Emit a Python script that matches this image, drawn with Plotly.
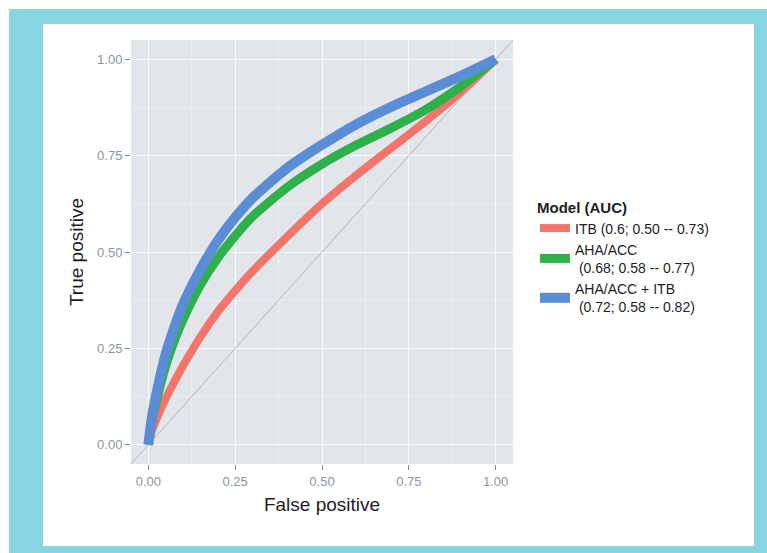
import plotly.graph_objects as go

# ---- data ----
itb_x = [0, 0.01, 0.025, 0.05, 0.1, 0.15, 0.2, 0.25, 0.3, 0.4, 0.5, 0.6, 0.7, 0.8, 0.9, 1]
itb_y = [0, 0.035, 0.07, 0.12, 0.205, 0.28, 0.345, 0.4, 0.45, 0.54, 0.625, 0.7, 0.77, 0.84, 0.915, 1]

aha_x = [0, 0.01, 0.025, 0.05, 0.075, 0.1, 0.15, 0.2, 0.25, 0.3, 0.4, 0.5, 0.6, 0.7, 0.8, 0.9, 1]
aha_y = [0, 0.06, 0.12, 0.205, 0.27, 0.325, 0.415, 0.485, 0.542, 0.592, 0.668, 0.728, 0.778, 0.822, 0.87, 0.93, 1]

ahaitb_x = [0, 0.01, 0.025, 0.05, 0.075, 0.1, 0.15, 0.2, 0.25, 0.3, 0.4, 0.5, 0.6, 0.7, 0.8, 0.9, 1]
ahaitb_y = [0, 0.07, 0.14, 0.235, 0.305, 0.365, 0.455, 0.53, 0.59, 0.64, 0.718, 0.778, 0.832, 0.877, 0.917, 0.957, 1]

diag = [-0.05, 1.05]

names = ["ITB (0.6; 0.50 -- 0.73)",
         "AHA/ACC<br>\u00a0(0.68; 0.58 -- 0.77)",
         "AHA/ACC + ITB<br>\u00a0(0.72; 0.58 -- 0.82)"]
colors = ["#f2746b", "#2eb04b", "#5b8cd6"]
widths = [8, 9, 10]

tick_vals = [0, 0.25, 0.5, 0.75, 1]
tick_text = ["0.00", "0.25", "0.50", "0.75", "1.00"]
minor_vals = [0.125, 0.375, 0.625, 0.875]

FONT = "Liberation Sans, Arial, sans-serif"

fig = go.Figure()
fig.add_trace(go.Scatter(x=diag, y=diag, mode="lines",
                         line=dict(color="#b4b6b8", width=1),
                         showlegend=False, hoverinfo="skip"))
for xs, ys, nm, c, w in zip([itb_x, aha_x, ahaitb_x], [itb_y, aha_y, ahaitb_y],
                            names, colors, widths):
    fig.add_trace(go.Scatter(x=xs, y=ys, mode="lines", name=nm,
                             line=dict(color=c, width=w, shape="spline", smoothing=0.7)))

W, H = 767, 553
L, R, T, B = 131, 254, 40, 89
pw, ph = W - L - R, H - T - B


def px2paper(x0, y0, x1, y1):
    return dict(x0=(x0 - L) / pw, x1=(x1 - L) / pw,
                y0=(H - B - y0) / ph, y1=(H - B - y1) / ph)


border = "#88d4e2"
shapes = []
for (a, b, c, d) in [(9, 9, 767, 24), (9, 9, 43, 553), (754, 9, 767, 553), (9, 546, 767, 553)]:
    shapes.append(dict(type="rect", xref="paper", yref="paper", layer="below",
                       fillcolor=border, line=dict(width=0), **px2paper(a, b, c, d)))

axis_common = dict(
    range=[-0.05, 1.05], tickvals=tick_vals, ticktext=tick_text,
    ticks="outside", ticklen=5, tickwidth=1, tickcolor="#8a8e92",
    tickfont=dict(family=FONT, size=13, color="#8c959e"),
    showgrid=True, gridcolor="#fbfbfc", gridwidth=1.4,
    minor=dict(tickvals=minor_vals, showgrid=True, gridcolor="#eceef1", gridwidth=1),
    zeroline=False, showline=False, automargin=False,
)

fig.update_layout(
    width=W, height=H,
    margin=dict(l=L, r=R, t=T, b=B),
    paper_bgcolor="white", plot_bgcolor="#e2e5e9",
    shapes=shapes,
    xaxis=dict(**axis_common,
               title=dict(text="False positive", standoff=10,
                          font=dict(family=FONT, size=19, color="#1e1e1e"))),
    yaxis=dict(**axis_common,
               title=dict(text="True positive", standoff=8,
                          font=dict(family=FONT, size=19, color="#1e1e1e"))),
    legend=dict(x=(535 - L) / pw, y=(H - B - 193) / ph, xanchor="left", yanchor="top",
                title=dict(text="<b>Model (AUC)</b>", font=dict(family=FONT, size=15, color="#1e1e1e")),
                font=dict(family=FONT, size=14, color="#1e1e1e"),
                bgcolor="rgba(0,0,0,0)", tracegroupgap=0),
    showlegend=True,
)

fig.write_html("out.html")
